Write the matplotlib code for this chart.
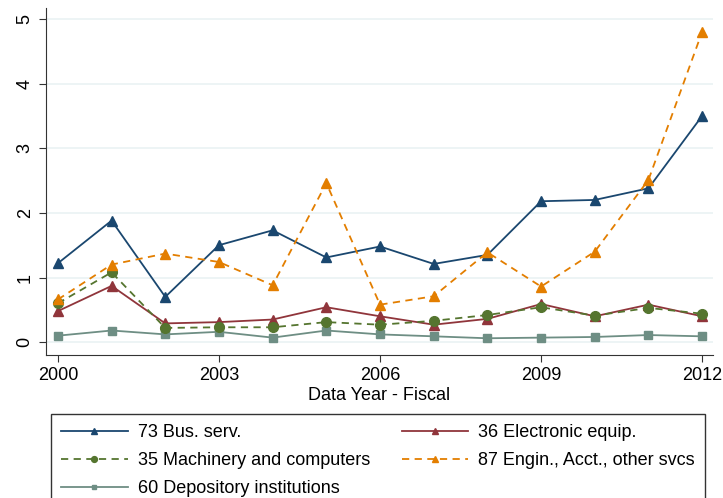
import matplotlib
matplotlib.use("Agg")
import matplotlib.pyplot as plt

plt.rcParams["font.family"] = ["Liberation Sans", "DejaVu Sans"]

years = list(range(2000, 2013))
bus_serv = [1.22, 1.88, 0.70, 1.50, 1.73, 1.31, 1.48, 1.21, 1.35, 2.18, 2.20, 2.38, 3.50]
electronic = [0.48, 0.87, 0.29, 0.31, 0.35, 0.54, 0.40, 0.27, 0.36, 0.59, 0.40, 0.58, 0.40]
machinery = [0.60, 1.08, 0.22, 0.23, 0.23, 0.31, 0.27, 0.33, 0.42, 0.54, 0.41, 0.53, 0.44]
engin = [0.66, 1.20, 1.37, 1.24, 0.88, 2.46, 0.58, 0.71, 1.39, 0.86, 1.40, 2.51, 4.80]
depository = [0.10, 0.18, 0.12, 0.16, 0.07, 0.18, 0.12, 0.09, 0.06, 0.07, 0.08, 0.11, 0.09]

xticks = [2000, 2003, 2006, 2009, 2012]
yticks = [0, 1, 2, 3, 4, 5]

fig = plt.figure(figsize=(7.23, 4.98), dpi=100)
ax = fig.add_axes([0.063, 0.287, 0.923, 0.697])

h_bus, = ax.plot(years, bus_serv, "-^", color="#1a476f", lw=1.3, ms=6.5,
                 label="73 Bus. serv.", zorder=5)
h_ele, = ax.plot(years, electronic, "-^", color="#90353b", lw=1.3, ms=6.5,
                 label="36 Electronic equip.", zorder=4)
h_mac, = ax.plot(years, machinery, "--o", color="#55752f", lw=1.3, ms=7,
                 dashes=(4, 3), label="35 Machinery and computers", zorder=4)
h_eng, = ax.plot(years, engin, "--^", color="#e37e00", lw=1.3, ms=6.5,
                 dashes=(4, 3), label="87 Engin., Acct., other svcs", zorder=6)
h_dep, = ax.plot(years, depository, "-s", color="#6e8e84", lw=1.3, ms=5.5,
                 label="60 Depository institutions", zorder=3)

ax.set_xlim(1999.77, 2012.2)
ax.set_ylim(-0.2, 5.17)
ax.set_xticks(xticks)
ax.set_yticks(yticks)
ax.grid(axis="y", color="#eaf2f3", lw=1.2)
ax.set_axisbelow(True)
for s in ["top", "right"]:
    ax.spines[s].set_visible(False)
ax.spines["left"].set_color("#333333")
ax.spines["bottom"].set_color("#333333")
ax.tick_params(labelsize=13, length=5, color="#333333")
ax.tick_params(axis="y", labelrotation=90)
for lab in ax.get_yticklabels():
    lab.set_va("center")
ax.set_xlabel("Data Year - Fiscal", fontsize=13, labelpad=2)

# legend sits below the plot, its bottom edge runs off the figure
handles = [h_bus, h_mac, h_dep, h_ele, h_eng]
leg = fig.legend(handles, [h.get_label() for h in handles], loc="upper left",
                 bbox_to_anchor=(51 / 723, 1 - 414 / 498),
                 ncol=2, fontsize=13, frameon=True, markerscale=0.6,
                 fancybox=False, edgecolor="black", borderaxespad=0,
                 handlelength=3.7, handletextpad=0.55, labelspacing=0.62,
                 columnspacing=1.75, borderpad=0.55)
leg.get_frame().set_linewidth(1.0)

fig.savefig("out.png", dpi=100)
